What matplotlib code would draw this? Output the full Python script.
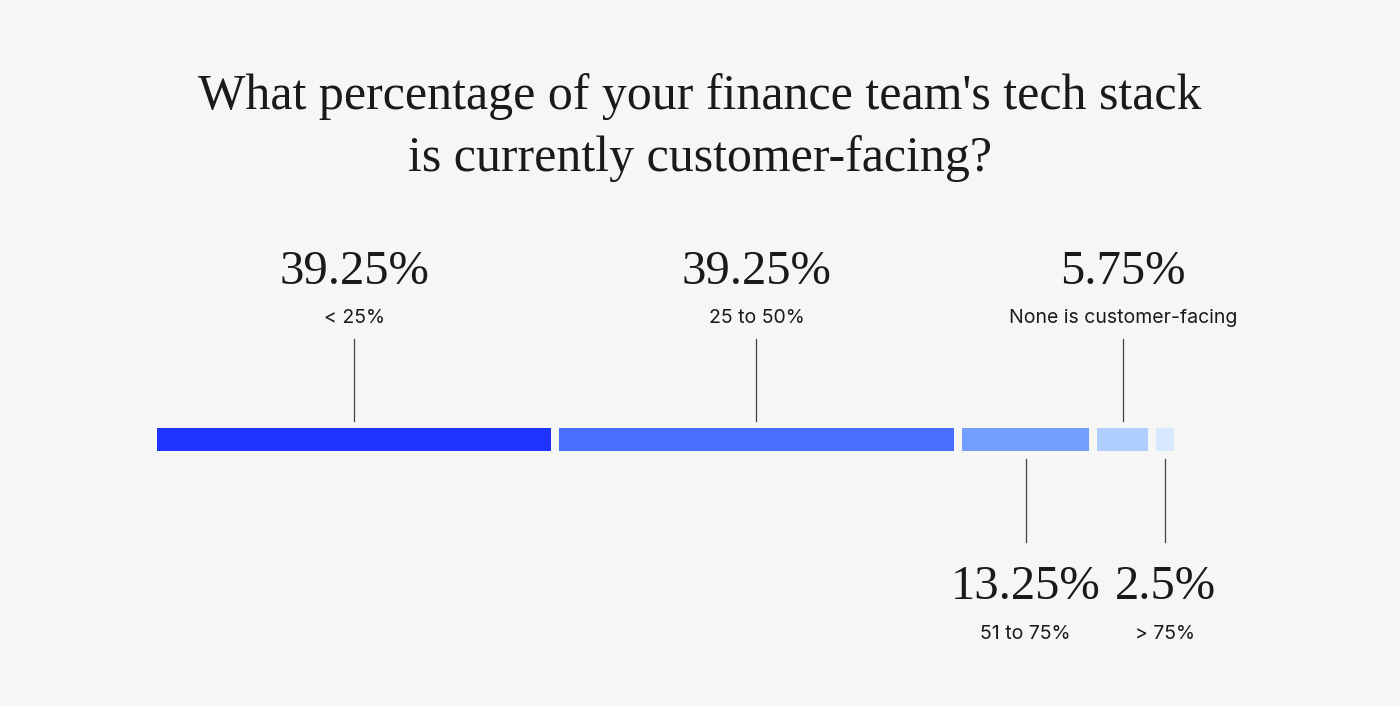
import matplotlib
matplotlib.use("Agg")
import matplotlib.pyplot as plt

# data
labels = ["< 25%", "25 to 50%", "51 to 75%", "None is customer-facing", "> 75%"]
shares = [39.25, 39.25, 13.25, 5.75, 2.5]
value_text = ["39.25%", "39.25%", "13.25%", "5.75%", "2.5%"]
above = [True, True, False, True, False]
colors = ["#1f35ff", "#4a6fff", "#739eff", "#b0cdff", "#d8e8ff"]

bg = "#f6f6f4"
px_per_pct = 10.25
left_px = 157
gap = 8 / px_per_pct

fig = plt.figure(figsize=(14, 7.06), dpi=100, facecolor=bg)
ax = fig.add_axes([0, 0, 1, 1])
ax.set_facecolor(bg)
ax.set_xlim(-left_px / px_per_pct, (1400 - left_px) / px_per_pct)
ax.set_ylim(706, 0)
ax.axis("off")

fig.text(0.5, 1 - 97 / 706, "What percentage of your finance team's tech stack",
         ha="center", va="center", fontsize=36, family="Liberation Serif", color="#1a1a1a")
fig.text(0.5, 1 - 159 / 706, "is currently customer-facing?",
         ha="center", va="center", fontsize=36, family="Liberation Serif", color="#1a1a1a")

start = 0
for lab, s, vt, up, c in zip(labels, shares, value_text, above, colors):
    ax.barh(439.5, s - gap, left=start, height=23, color=c, align="center")
    cx = start + (s - gap) / 2
    if up:
        ax.plot([cx, cx], [339, 421], color="#444444", lw=0.9)
        ax.text(cx, 272, vt, ha="center", va="center", fontsize=35,
                family="Liberation Serif", color="#1a1a1a")
        ax.text(cx, 318, lab, ha="center", va="center", fontsize=14,
                family="Inter", color="#1a1a1a")
    else:
        ax.plot([cx, cx], [459, 542], color="#444444", lw=0.9)
        ax.text(cx, 587, vt, ha="center", va="center", fontsize=35,
                family="Liberation Serif", color="#1a1a1a")
        ax.text(cx, 634, lab, ha="center", va="center", fontsize=14,
                family="Inter", color="#1a1a1a")
    start += s

fig.savefig("out.png", dpi=100, facecolor=bg)
